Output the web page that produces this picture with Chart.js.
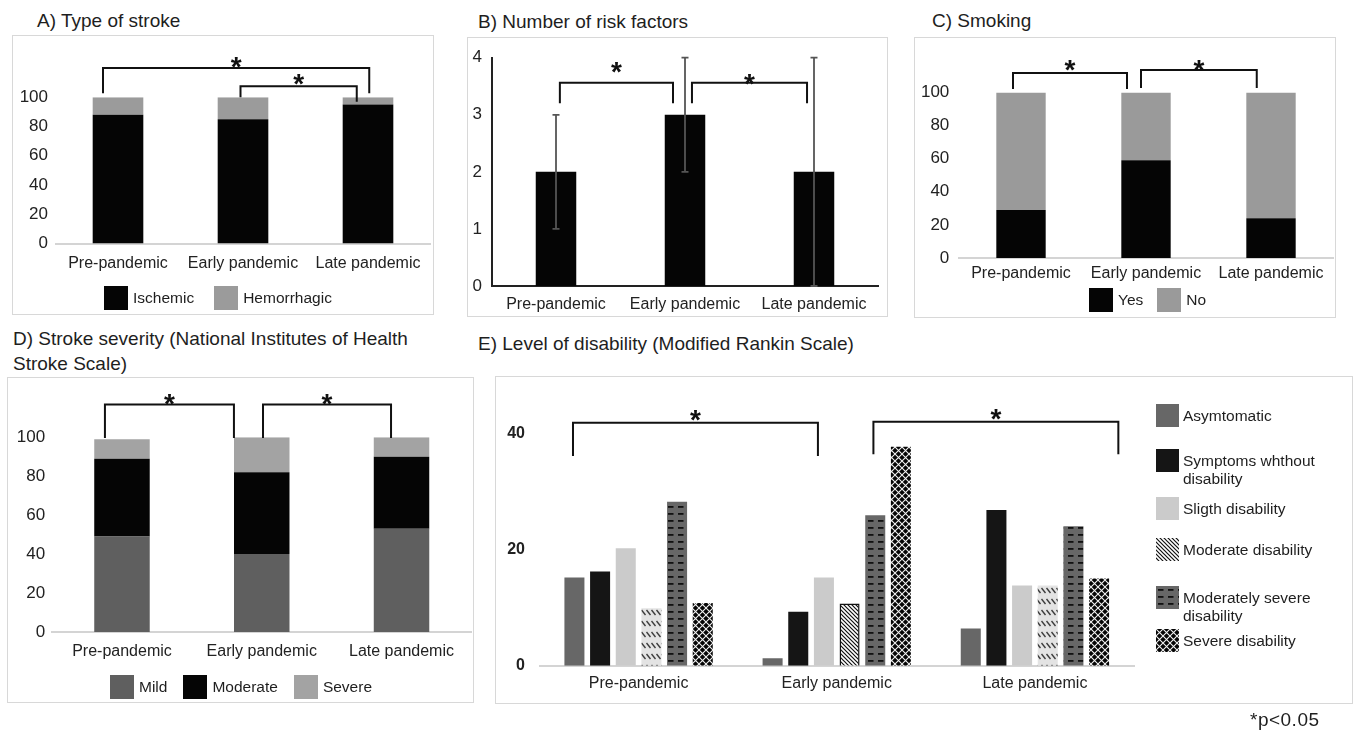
<!DOCTYPE html>
<html>
<head>
<meta charset="utf-8">
<script src="https://cdn.jsdelivr.net/npm/chart.js@4.4.1/dist/chart.umd.min.js"></script>
<style>
  body { margin: 0; background: #fff; font-family: "Liberation Sans", Arial, sans-serif; color: #1e1e1e; }
  #page { position: relative; width: 1355px; height: 736px; overflow: hidden; }
  .title { position: absolute; font-size: 19px; line-height: 25px; white-space: nowrap; }
  .panel { position: absolute; outline: 1px solid #d8d8d8; }
  .panel canvas { display: block; }
  .legend { position: absolute; display: flex; align-items: center; font-size: 15.5px; white-space: nowrap; }
  .legend .item { display: flex; align-items: center; }
  .legend .sw { display: inline-block; width: 24px; height: 24px; margin-right: 5px; }
  .elegend { position: absolute; left: 1156px; top: 0; width: 196px; height: 700px; }
  .elegend .item { position: absolute; left: 0; width: 196px; display: flex; align-items: flex-start; font-size: 15.5px; line-height: 18px; }
  .elegend canvas { width: 23px; height: 23px; margin-right: 4px; display: block; flex: none; }
  .elegend .txt { width: 165px; padding-top: 3px; }
  #pval { position: absolute; left: 1250px; top: 709px; font-size: 19px; line-height: 22px; letter-spacing: 0.5px; }
</style>
</head>
<body>
<div id="page">
  <div class="title" style="left:37px; top:8px;">A) Type of stroke</div>
  <div class="title" style="left:478px; top:9px;">B) Number of risk factors</div>
  <div class="title" style="left:932px; top:8px;">C) Smoking</div>
  <div class="title" style="left:13px; top:326px;">D) Stroke severity (National Institutes of Health<br>Stroke Scale)</div>
  <div class="title" style="left:478px; top:331px;">E) Level of disability (Modified Rankin Scale)</div>

  <div class="panel" style="left:13px; top:36px;"><canvas id="cA" width="420" height="278"></canvas></div>
  <div class="panel" style="left:468px; top:38px;"><canvas id="cB" width="419" height="278"></canvas></div>
  <div class="panel" style="left:915px; top:38px;"><canvas id="cC" width="420" height="279"></canvas></div>
  <div class="panel" style="left:8px; top:378px;"><canvas id="cD" width="465" height="324"></canvas></div>
  <div class="panel" style="left:496px; top:377px;"><canvas id="cE" width="856" height="326"></canvas></div>

  <div class="legend" id="legA" style="left:104px; top:286px; gap:20px;"></div>
  <div class="legend" id="legC" style="left:1089px; top:288px; gap:14px;"></div>
  <div class="legend" id="legD" style="left:110px; top:675px; gap:16px;"></div>
  <div class="elegend" id="legE"></div>

  <div id="pval">*p&lt;0.05</div>
</div>

<script>
const periods = ["Pre-pandemic", "Early pandemic", "Late pandemic"];

// A) type of stroke, %
const ischemic = [88, 85, 95];
const hemorrhagic = [12, 15, 5];

// B) number of risk factors, median with range
const riskMedian = [2, 3, 2];
const riskLow = [1, 2, 0];
const riskHigh = [3, 4, 4];

// C) smoking, %
const smokingYes = [29, 59, 24];
const smokingNo = [71, 41, 76];

// D) NIHSS, %
const nihssMild = [49, 40, 53];
const nihssModerate = [40, 42, 37];
const nihssSevere = [10, 18, 10];

// E) modified Rankin scale, %
const mrsAsymptomatic = [15.2, 1.3, 6.4];
const mrsNoDisability = [16.2, 9.3, 26.8];
const mrsSlight = [20.2, 15.2, 13.8];
const mrsModerate = [9.9, 10.7, 13.8];
const mrsModSevere = [28.2, 25.9, 24.0];
const mrsSevere = [10.8, 37.7, 15.0];

const pctTicks = [0, 20, 40, 60, 80, 100];
const riskTicks = [0, 1, 2, 3, 4];
const mrsTicks = [0, 20, 40];

const FONT = '"Liberation Sans", Arial, sans-serif';
Chart.defaults.font.family = FONT;
Chart.defaults.color = '#222';
Chart.defaults.animation = false;
Chart.defaults.plugins.legend.display = false;
Chart.defaults.plugins.tooltip.enabled = false;

// significance brackets with a star on top
const bracketPlugin = {
  id: 'brackets',
  afterDraw(chart, args, opts) {
    const xs = chart.scales.x, ys = chart.scales.y, ctx = chart.ctx;
    ctx.save();
    ctx.strokeStyle = '#111';
    ctx.fillStyle = '#111';
    ctx.lineWidth = 2;
    ctx.font = 'bold 28px ' + FONT;
    ctx.textAlign = 'center';
    ctx.textBaseline = 'alphabetic';
    (opts.items || []).forEach(b => {
      const x1 = xs.getPixelForValue(b.from), x2 = xs.getPixelForValue(b.to);
      const yt = ys.getPixelForValue(b.top);
      ctx.beginPath();
      ctx.moveTo(x1, ys.getPixelForValue(b.left));
      ctx.lineTo(x1, yt);
      ctx.lineTo(x2, yt);
      ctx.lineTo(x2, ys.getPixelForValue(b.right));
      ctx.stroke();
      ctx.fillText('*', (x1 + x2) / 2, yt + b.drop);
    });
    ctx.restore();
  }
};

// range bars for panel B
const errorBarPlugin = {
  id: 'errorBars',
  afterDatasetsDraw(chart, args, opts) {
    if (!opts.low) return;
    const ys = chart.scales.y, ctx = chart.ctx;
    ctx.save();
    ctx.strokeStyle = '#555';
    ctx.lineWidth = 1.8;
    chart.getDatasetMeta(0).data.forEach((bar, i) => {
      const lo = ys.getPixelForValue(opts.low[i]), hi = ys.getPixelForValue(opts.high[i]);
      ctx.beginPath();
      ctx.moveTo(bar.x, lo); ctx.lineTo(bar.x, hi);
      ctx.moveTo(bar.x - 3.5, hi); ctx.lineTo(bar.x + 3.5, hi);
      ctx.moveTo(bar.x - 3.5, lo); ctx.lineTo(bar.x + 3.5, lo);
      ctx.stroke();
    });
    ctx.restore();
  }
};

function axes(o) {
  return {
    x: {
      stacked: !!o.stacked,
      grid: { display: false, drawTicks: false },
      border: { display: true, color: o.xLine || '#d4d4d4', width: 2 },
      ticks: { font: { size: 16 }, padding: o.xPad, maxRotation: 0, autoSkip: false, color: '#222' },
      afterFit: s => { s.height = o.xHeight; }
    },
    y: {
      stacked: !!o.stacked,
      min: 0,
      max: o.max,
      grid: { display: false, drawTicks: false },
      border: { display: !!o.yLine, color: o.yLine, width: 2 },
      ticks: { font: { size: o.yFont || 17, weight: o.yWeight || 'normal' }, padding: o.yPad, color: '#222' },
      afterBuildTicks: s => { s.ticks = o.ticks.map(v => ({ value: v })); },
      afterFit: s => { s.width = o.yWidth; }
    }
  };
}

function tile(w, h, draw) {
  const c = document.createElement('canvas');
  c.width = w; c.height = h;
  draw(c.getContext('2d'), w, h);
  return c;
}

const tiles = {
  slashes: tile(5, 11, (g, w, h) => {
    g.fillStyle = '#e3e3e3'; g.fillRect(0, 0, w, h);
    g.strokeStyle = '#3a3a3a'; g.lineWidth = 1.4;
    g.beginPath(); g.moveTo(0.5, 2); g.lineTo(4.5, 7); g.stroke();
  }),
  stripes: tile(4, 4, (g, w, h) => {
    g.fillStyle = '#fff'; g.fillRect(0, 0, w, h);
    g.strokeStyle = '#111'; g.lineWidth = 1.2;
    g.beginPath();
    g.moveTo(0, 0); g.lineTo(4, 4);
    g.moveTo(-1, 3); g.lineTo(1, 5);
    g.moveTo(3, -1); g.lineTo(5, 1);
    g.stroke();
  }),
  dashes: tile(10, 7, (g, w, h) => {
    g.fillStyle = '#676767'; g.fillRect(0, 0, w, h);
    g.fillStyle = '#111'; g.fillRect(2, 3, 5.5, 1.8);
  }),
  lattice: tile(7, 7, (g, w, h) => {
    g.fillStyle = '#050505'; g.fillRect(0, 0, w, h);
    g.strokeStyle = '#f2f2f2'; g.lineWidth = 1.1;
    g.beginPath();
    g.moveTo(0, 0); g.lineTo(7, 7);
    g.moveTo(7, 0); g.lineTo(0, 7);
    g.stroke();
  })
};

function htmlLegend(id, chart) {
  const box = document.getElementById(id);
  chart.data.datasets.forEach(ds => {
    const item = document.createElement('span');
    item.className = 'item';
    const sw = document.createElement('span');
    sw.className = 'sw';
    sw.style.background = ds.backgroundColor;
    const tx = document.createElement('span');
    tx.textContent = ds.label;
    item.append(sw, tx);
    box.append(item);
  });
}

// A) Type of stroke
const chartA = new Chart(document.getElementById('cA'), {
  type: 'bar',
  data: {
    labels: periods,
    datasets: [
      { label: 'Ischemic', data: ischemic, backgroundColor: '#050505' },
      { label: 'Hemorrhagic', data: hemorrhagic, backgroundColor: '#9b9b9b' }
    ]
  },
  options: {
    responsive: false,
    layout: { padding: { top: 61.3, right: 2.5, bottom: 0, left: 0 } },
    datasets: { bar: { categoryPercentage: 0.405, barPercentage: 1 } },
    scales: axes({ stacked: true, max: 100, ticks: pctTicks, xHeight: 70.5, yWidth: 42.5, xPad: 10, yPad: 7.5 }),
    plugins: {
      brackets: { items: [
        { from: -0.12, to: 2.01, top: 120, left: 102.7, right: 102.7, drop: 8 },
        { from: 0.98, to: 1.91, top: 107.5, left: 100, right: 97, drop: 7 }
      ] }
    }
  },
  plugins: [bracketPlugin]
});
htmlLegend('legA', chartA);

// B) Number of risk factors
new Chart(document.getElementById('cB'), {
  type: 'bar',
  data: {
    labels: periods,
    datasets: [{ label: 'Risk factors', data: riskMedian, backgroundColor: '#050505' }]
  },
  options: {
    responsive: false,
    layout: { padding: { top: 14.3, right: 8.5, bottom: 0, left: 0 } },
    datasets: { bar: { categoryPercentage: 0.314, barPercentage: 1 } },
    scales: axes({ max: 4, ticks: riskTicks, xHeight: 30, yWidth: 23.5, xPad: 9.4, yPad: 9.5, xLine: '#222', yLine: '#222' }),
    plugins: {
      errorBars: { low: riskLow, high: riskHigh },
      brackets: { items: [
        { from: 0.03, to: 0.907, top: 3.56, left: 3.2, right: 3.2, drop: -2 },
        { from: 1.054, to: 1.946, top: 3.56, left: 3.2, right: 3.2, drop: 10 }
      ] }
    }
  },
  plugins: [errorBarPlugin, bracketPlugin]
});

// C) Smoking
const chartC = new Chart(document.getElementById('cC'), {
  type: 'bar',
  data: {
    labels: periods,
    datasets: [
      { label: 'Yes', data: smokingYes, backgroundColor: '#050505' },
      { label: 'No', data: smokingNo, backgroundColor: '#9a9a9a' }
    ]
  },
  options: {
    responsive: false,
    layout: { padding: { top: 54.5, right: 1.5, bottom: 0, left: 0 } },
    datasets: { bar: { categoryPercentage: 0.395, barPercentage: 1 } },
    scales: axes({ stacked: true, max: 100, ticks: pctTicks, xHeight: 59, yWidth: 43.5, xPad: 5.7, yPad: 9.2 }),
    plugins: {
      brackets: { items: [
        { from: -0.064, to: 0.848, top: 111.8, left: 102.1, right: 102.1, drop: 6 },
        { from: 0.96, to: 1.886, top: 113.6, left: 102.7, right: 102.7, drop: 9 }
      ] }
    }
  },
  plugins: [bracketPlugin]
});
htmlLegend('legC', chartC);

// D) Stroke severity
const chartD = new Chart(document.getElementById('cD'), {
  type: 'bar',
  data: {
    labels: periods,
    datasets: [
      { label: 'Mild', data: nihssMild, backgroundColor: '#5f5f5f' },
      { label: 'Moderate', data: nihssModerate, backgroundColor: '#050505' },
      { label: 'Severe', data: nihssSevere, backgroundColor: '#a3a3a3' }
    ]
  },
  options: {
    responsive: false,
    layout: { padding: { top: 59.3, right: 1.6, bottom: 0, left: 0 } },
    datasets: { bar: { categoryPercentage: 0.397, barPercentage: 1 } },
    scales: axes({ stacked: true, max: 100, ticks: pctTicks, xHeight: 70, yWidth: 44.1, xPad: 10, yPad: 7 }),
    plugins: {
      brackets: { items: [
        { from: -0.122, to: 0.801, top: 116.9, left: 99.6, right: 99.6, drop: 9 },
        { from: 1.009, to: 1.925, top: 116.9, left: 99.6, right: 99.6, drop: 9 }
      ] }
    }
  },
  plugins: [bracketPlugin]
});
htmlLegend('legD', chartD);

// E) Modified Rankin Scale
const ctxE = document.getElementById('cE').getContext('2d');
const pat = t => ctxE.createPattern(tiles[t], 'repeat');
const chartE = new Chart(ctxE, {
  type: 'bar',
  data: {
    labels: periods,
    datasets: [
      { label: 'Asymtomatic', data: mrsAsymptomatic, backgroundColor: '#676767', swatch: '#676767' },
      { label: 'Symptoms whthout disability', data: mrsNoDisability, backgroundColor: '#151515', swatch: '#151515' },
      { label: 'Sligth disability', data: mrsSlight, backgroundColor: '#cbcbcb', swatch: '#cbcbcb' },
      { label: 'Moderate disability', data: mrsModerate,
        backgroundColor: [pat('slashes'), pat('stripes'), pat('slashes')],
        borderColor: ['#dcdcdc', '#111', '#dcdcdc'], borderWidth: [0, 1.5, 0], swatch: 'stripes' },
      { label: 'Moderately severe disability', data: mrsModSevere, backgroundColor: pat('dashes'), swatch: 'dashes' },
      { label: 'Severe disability', data: mrsSevere, backgroundColor: pat('lattice'), swatch: 'lattice' }
    ]
  },
  options: {
    responsive: false,
    layout: { padding: { top: 56.3, right: 218, bottom: 0, left: 0 } },
    datasets: { bar: { categoryPercentage: 0.777, barPercentage: 0.78 } },
    scales: axes({ max: 40, ticks: mrsTicks, xHeight: 37.3, yWidth: 43.5, xPad: 8, yPad: 14.5, yFont: 16, yWeight: 'bold' }),
    plugins: {
      brackets: { items: [
        { from: -0.331, to: 0.905, top: 41.8, left: 36.1, right: 36.1, drop: 6 },
        { from: 1.185, to: 2.421, top: 42.0, left: 36.4, right: 36.4, drop: 6 }
      ] }
    }
  },
  plugins: [bracketPlugin]
});

// legend for E, stacked on the right
const legendTops = [404, 449, 497, 538, 586, 629];
const legE = document.getElementById('legE');
chartE.data.datasets.forEach((ds, i) => {
  const item = document.createElement('div');
  item.className = 'item';
  item.style.top = legendTops[i] + 'px';
  const sw = document.createElement('canvas');
  sw.width = 23; sw.height = 23;
  const g = sw.getContext('2d');
  g.fillStyle = tiles[ds.swatch] ? g.createPattern(tiles[ds.swatch], 'repeat') : ds.swatch;
  g.fillRect(0, 0, 23, 23);
  const tx = document.createElement('div');
  tx.className = 'txt';
  tx.textContent = ds.label;
  item.append(sw, tx);
  legE.append(item);
});
</script>
</body>
</html>
